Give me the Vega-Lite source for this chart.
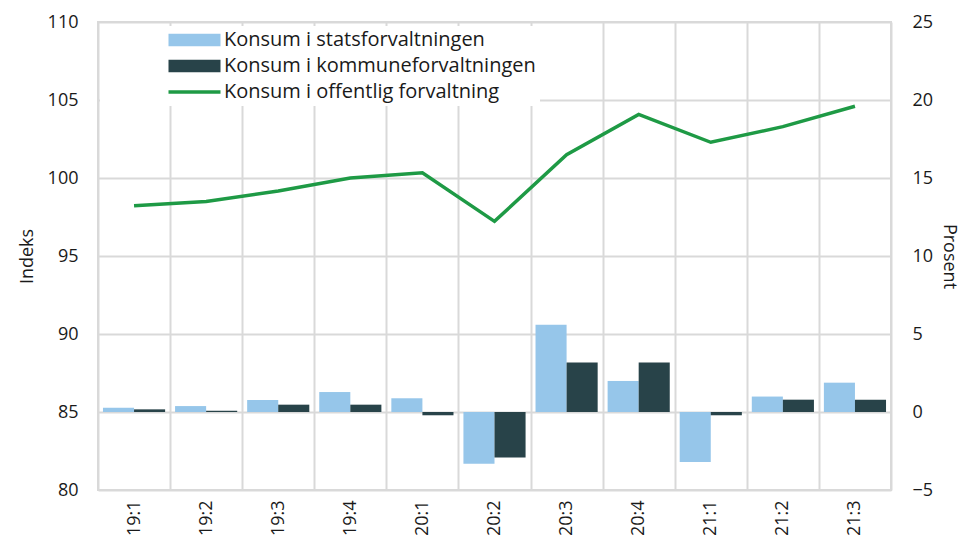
{
  "$schema": "https://vega.github.io/schema/vega-lite/v6.json",
  "autosize": {"type": "none"},
  "width": 793,
  "height": 468,
  "padding": {"left": 98, "top": 22, "right": 75, "bottom": 45},
  "background": "white",
  "config": {
    "font": "Open Sans",
    "view": {"stroke": "#d9d9d9", "strokeWidth": 2},
    "axis": {"labelColor": "#1a1a1a", "titleColor": "#1a1a1a", "labelFont": "Open Sans", "titleFont": "Open Sans"}
  },
  "data": {
    "values": [
      {"kvartal": "19:1", "serie": "Konsum i statsforvaltningen", "verdi": 0.28},
      {"kvartal": "19:1", "serie": "Konsum i kommuneforvaltningen", "verdi": 0.17},
      {"kvartal": "19:1", "serie": "Konsum i offentlig forvaltning", "verdi": 98.22},
      {"kvartal": "19:2", "serie": "Konsum i statsforvaltningen", "verdi": 0.38},
      {"kvartal": "19:2", "serie": "Konsum i kommuneforvaltningen", "verdi": 0.08},
      {"kvartal": "19:2", "serie": "Konsum i offentlig forvaltning", "verdi": 98.5},
      {"kvartal": "19:3", "serie": "Konsum i statsforvaltningen", "verdi": 0.77},
      {"kvartal": "19:3", "serie": "Konsum i kommuneforvaltningen", "verdi": 0.47},
      {"kvartal": "19:3", "serie": "Konsum i offentlig forvaltning", "verdi": 99.17},
      {"kvartal": "19:4", "serie": "Konsum i statsforvaltningen", "verdi": 1.28},
      {"kvartal": "19:4", "serie": "Konsum i kommuneforvaltningen", "verdi": 0.47},
      {"kvartal": "19:4", "serie": "Konsum i offentlig forvaltning", "verdi": 100.0},
      {"kvartal": "20:1", "serie": "Konsum i statsforvaltningen", "verdi": 0.88},
      {"kvartal": "20:1", "serie": "Konsum i kommuneforvaltningen", "verdi": -0.21},
      {"kvartal": "20:1", "serie": "Konsum i offentlig forvaltning", "verdi": 100.34},
      {"kvartal": "20:2", "serie": "Konsum i statsforvaltningen", "verdi": -3.31},
      {"kvartal": "20:2", "serie": "Konsum i kommuneforvaltningen", "verdi": -2.92},
      {"kvartal": "20:2", "serie": "Konsum i offentlig forvaltning", "verdi": 97.22},
      {"kvartal": "20:3", "serie": "Konsum i statsforvaltningen", "verdi": 5.6},
      {"kvartal": "20:3", "serie": "Konsum i kommuneforvaltningen", "verdi": 3.17},
      {"kvartal": "20:3", "serie": "Konsum i offentlig forvaltning", "verdi": 101.5},
      {"kvartal": "20:4", "serie": "Konsum i statsforvaltningen", "verdi": 1.99},
      {"kvartal": "20:4", "serie": "Konsum i kommuneforvaltningen", "verdi": 3.17},
      {"kvartal": "20:4", "serie": "Konsum i offentlig forvaltning", "verdi": 104.08},
      {"kvartal": "21:1", "serie": "Konsum i statsforvaltningen", "verdi": -3.2},
      {"kvartal": "21:1", "serie": "Konsum i kommuneforvaltningen", "verdi": -0.21},
      {"kvartal": "21:1", "serie": "Konsum i offentlig forvaltning", "verdi": 102.29},
      {"kvartal": "21:2", "serie": "Konsum i statsforvaltningen", "verdi": 0.99},
      {"kvartal": "21:2", "serie": "Konsum i kommuneforvaltningen", "verdi": 0.79},
      {"kvartal": "21:2", "serie": "Konsum i offentlig forvaltning", "verdi": 103.29},
      {"kvartal": "21:3", "serie": "Konsum i statsforvaltningen", "verdi": 1.88},
      {"kvartal": "21:3", "serie": "Konsum i kommuneforvaltningen", "verdi": 0.79},
      {"kvartal": "21:3", "serie": "Konsum i offentlig forvaltning", "verdi": 104.6}
    ]
  },
  "encoding": {
    "x": {
      "field": "kvartal",
      "type": "nominal",
      "sort": null,
      "scale": {"paddingInner": 0, "paddingOuter": 0},
      "axis": {
        "title": null,
        "labelAngle": -90,
        "labelFontSize": 18,
        "labelPadding": 10,
        "ticks": false,
        "domain": false,
        "grid": true,
        "tickBand": "extent",
        "gridColor": "#d9d9d9",
        "gridWidth": 2
      }
    },
    "color": {
      "field": "serie",
      "type": "nominal",
      "scale": {
        "domain": ["Konsum i statsforvaltningen", "Konsum i kommuneforvaltningen", "Konsum i offentlig forvaltning"],
        "range": ["#96c6ea", "#284349", "#1e9a45"]
      },
      "legend": {
        "title": null,
        "orient": "none",
        "legendX": 2,
        "legendY": 4,
        "fillColor": "white",
        "padding": 4,
        "symbolSize": 169,
        "symbolOffset": 80.5,
        "labelOffset": 19.5,
        "labelFontSize": 20,
        "labelColor": "#1a1a1a",
        "labelLimit": 500,
        "rowPadding": 6,
        "encode": {
          "symbols": {
            "update": {
              "shape": {"signal": "datum.value === 'Konsum i offentlig forvaltning' ? 'M-4,0H4' : 'M-4,-0.95H4V0.95H-4Z'"},
              "fill": {"signal": "datum.value === 'Konsum i offentlig forvaltning' ? 'transparent' : scale('color', datum.value)"},
              "stroke": {"signal": "scale('color', datum.value)"},
              "strokeWidth": {"signal": "datum.value === 'Konsum i offentlig forvaltning' ? 3.5 : 0"},
              "opacity": {"value": 1}
            }
          }
        }
      }
    }
  },
  "layer": [
    {
      "transform": [{"filter": "datum.serie !== 'Konsum i offentlig forvaltning'"}],
      "mark": {"type": "bar"},
      "encoding": {
        "xOffset": {
          "field": "serie",
          "type": "nominal",
          "sort": ["Konsum i statsforvaltningen", "Konsum i kommuneforvaltningen"],
          "scale": {"domain": ["Konsum i statsforvaltningen", "Konsum i kommuneforvaltningen"], "paddingInner": 0, "paddingOuter": 0.16}
        },
        "y": {
          "field": "verdi",
          "type": "quantitative",
          "scale": {"domain": [-5, 25], "nice": false},
          "axis": {
            "orient": "right",
            "title": "Prosent",
            "titleFontSize": 18,
            "titleFontWeight": "normal",
            "titlePadding": 7,
            "labelFontSize": 18,
            "labelPadding": 21,
            "values": [-5, 0, 5, 10, 15, 20, 25],
            "ticks": false,
            "domain": false,
            "grid": false
          }
        }
      }
    },
    {
      "transform": [{"filter": "datum.serie === 'Konsum i offentlig forvaltning'"}],
      "mark": {"type": "line", "strokeWidth": 3.5},
      "encoding": {
        "y": {
          "field": "verdi",
          "type": "quantitative",
          "scale": {"domain": [80, 110], "nice": false, "zero": false},
          "axis": {
            "orient": "left",
            "title": "Indeks",
            "titleFontSize": 18,
            "titleFontWeight": "normal",
            "titlePadding": 11,
            "labelFontSize": 18,
            "labelPadding": 20,
            "values": [80, 85, 90, 95, 100, 105, 110],
            "ticks": false,
            "domain": false,
            "grid": true,
            "gridColor": "#d9d9d9",
            "gridWidth": 2
          }
        }
      }
    }
  ],
  "resolve": {"scale": {"y": "independent", "xOffset": "independent"}, "axis": {"y": "independent"}}
}
